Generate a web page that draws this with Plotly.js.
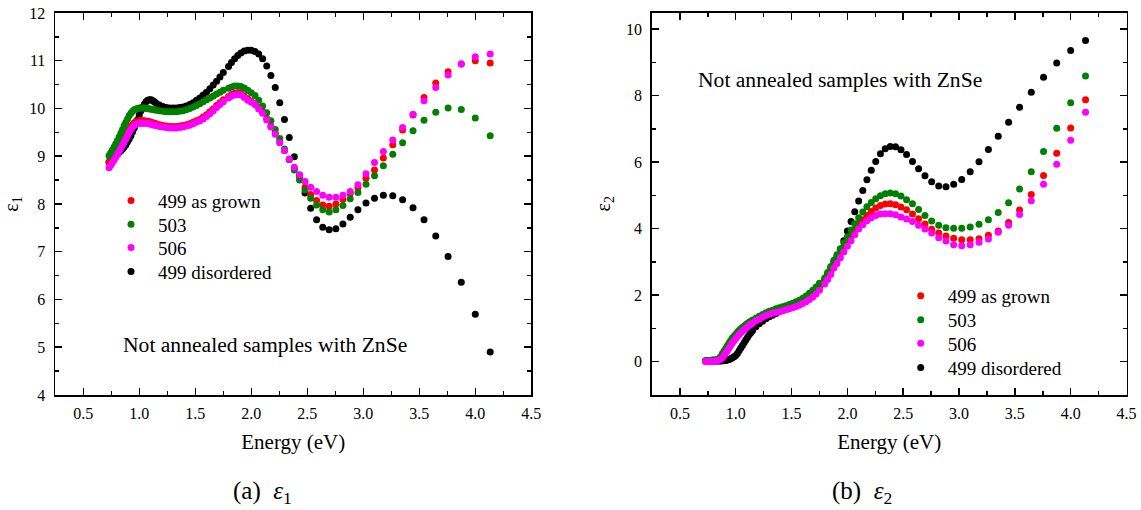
<!DOCTYPE html>
<html>
<head>
<meta charset="utf-8">
<script src="https://cdn.plot.ly/plotly-3.0.1.min.js"></script>
<style>html,body{margin:0;padding:0;background:#fff;}#chart{width:1141px;height:510px;}</style>
</head>
<body>
<div id="chart"></div>
<script>
// Photon energy (eV)
const energy = [0.730,0.745,0.760,0.775,0.790,0.805,0.820,0.835,0.850,0.865,0.880,0.895,0.910,0.925,0.940,0.955,0.970,0.985,1.000,1.015,1.030,1.045,1.060,1.075,1.090,1.105,1.120,1.135,1.150,
  1.18,1.21,1.24,1.27,1.30,1.33,1.36,1.39,1.42,1.45,1.48,1.51,1.54,1.57,1.60,1.63,1.66,1.69,1.72,1.75,
  1.797,1.823,1.851,1.879,1.907,1.937,1.968,2.000,2.033,2.066,2.101,2.138,2.175,2.214,2.254,2.296,2.339,2.384,2.431,2.480,2.530,2.583,2.638,2.695,2.755,2.818,2.883,2.952,3.024,3.100,3.179,3.263,3.351,3.444,3.542,3.647,3.757,3.875,4.000,4.133];

const seriesNames = ['499 as grown','503','506','499 disordered'];
const seriesColors = ['#ff0000','#008000','#ff00ff','#000000'];

// epsilon_1
const eps1_499 = [8.87,8.92,8.97,9.02,9.08,9.13,9.19,9.25,9.31,9.37,9.43,9.50,9.56,9.62,9.66,9.70,9.72,9.73,9.74,9.74,9.74,9.74,9.73,9.73,9.72,9.71,9.70,9.69,9.68,
  9.66,9.64,9.63,9.62,9.62,9.62,9.63,9.64,9.66,9.68,9.71,9.74,9.77,9.82,9.87,9.93,9.99,10.06,10.12,10.18,
  10.25,10.29,10.32,10.33,10.31,10.26,10.20,10.15,10.09,10.02,9.93,9.79,9.63,9.48,9.30,9.12,8.93,8.75,8.56,8.35,8.20,8.07,7.98,7.95,8.00,8.10,8.22,8.34,8.54,8.71,8.96,9.24,9.55,9.86,10.23,10.53,10.77,10.93,11.00,10.95];
const eps1_503 = [9.01,9.07,9.13,9.19,9.26,9.33,9.40,9.48,9.56,9.64,9.71,9.78,9.85,9.90,9.94,9.97,9.99,10.00,10.01,10.01,10.01,10.01,10.00,10.00,9.99,9.99,9.98,9.97,9.96,
  9.95,9.94,9.93,9.93,9.93,9.93,9.94,9.95,9.97,10.00,10.03,10.06,10.10,10.14,10.18,10.22,10.26,10.30,10.34,10.38,
  10.42,10.45,10.47,10.47,10.46,10.43,10.38,10.33,10.27,10.17,10.05,9.91,9.74,9.56,9.37,9.15,8.93,8.71,8.50,8.29,8.12,7.98,7.88,7.83,7.88,7.97,8.11,8.24,8.41,8.59,8.80,9.04,9.28,9.53,9.75,9.92,10.01,9.98,9.80,9.43];
const eps1_506 = [8.76,8.81,8.87,8.92,8.98,9.04,9.10,9.16,9.23,9.29,9.36,9.43,9.50,9.56,9.61,9.65,9.67,9.68,9.69,9.69,9.69,9.69,9.69,9.69,9.68,9.67,9.66,9.65,9.64,
  9.62,9.61,9.60,9.59,9.59,9.59,9.60,9.61,9.63,9.65,9.68,9.71,9.74,9.78,9.83,9.89,9.95,10.02,10.08,10.14,
  10.22,10.26,10.28,10.29,10.28,10.23,10.17,10.13,10.08,9.99,9.90,9.76,9.61,9.46,9.28,9.12,8.94,8.77,8.61,8.47,8.35,8.26,8.18,8.14,8.14,8.18,8.26,8.40,8.63,8.87,9.10,9.34,9.60,9.88,10.16,10.44,10.70,10.93,11.08,11.14];
const eps1_499d = [8.88,8.91,8.94,8.97,9.01,9.04,9.08,9.11,9.15,9.19,9.24,9.30,9.36,9.43,9.51,9.59,9.68,9.77,9.86,9.95,10.03,10.09,10.14,10.17,10.18,10.18,10.16,10.14,10.11,
  10.07,10.04,10.02,10.01,10.01,10.01,10.02,10.03,10.05,10.08,10.12,10.17,10.22,10.28,10.34,10.41,10.49,10.57,10.66,10.75,
  10.88,10.96,11.04,11.11,11.16,11.20,11.22,11.22,11.19,11.14,11.04,10.89,10.69,10.44,10.12,9.77,9.39,8.99,8.60,8.23,7.91,7.67,7.51,7.46,7.48,7.58,7.72,7.88,8.02,8.12,8.18,8.17,8.09,7.92,7.67,7.33,6.90,6.36,5.69,4.90];

// epsilon_2
const eps2_499 = [0.03,0.03,0.03,0.03,0.03,0.03,0.04,0.05,0.07,0.12,0.18,0.25,0.33,0.41,0.49,0.57,0.64,0.71,0.77,0.83,0.88,0.93,0.98,1.02,1.06,1.10,1.14,1.18,1.21,
  1.27,1.33,1.38,1.43,1.47,1.50,1.53,1.56,1.59,1.62,1.65,1.69,1.73,1.77,1.83,1.89,1.97,2.05,2.14,2.25,
  2.40,2.55,2.72,2.91,3.07,3.26,3.44,3.61,3.79,3.96,4.13,4.27,4.40,4.52,4.62,4.70,4.74,4.75,4.72,4.65,4.57,4.44,4.30,4.14,3.98,3.87,3.78,3.71,3.67,3.67,3.70,3.80,3.93,4.19,4.56,5.03,5.60,6.27,7.03,7.88];
const eps2_503 = [0.03,0.03,0.04,0.04,0.05,0.05,0.06,0.07,0.10,0.16,0.24,0.32,0.40,0.48,0.56,0.64,0.71,0.77,0.83,0.89,0.94,0.99,1.03,1.07,1.11,1.15,1.19,1.22,1.25,
  1.31,1.37,1.42,1.47,1.52,1.55,1.59,1.62,1.65,1.68,1.72,1.76,1.80,1.85,1.91,1.98,2.06,2.15,2.25,2.36,
  2.52,2.68,2.86,3.05,3.22,3.40,3.58,3.76,3.96,4.15,4.33,4.50,4.66,4.79,4.90,4.99,5.05,5.07,5.05,4.98,4.87,4.75,4.58,4.40,4.23,4.10,4.03,4.01,4.01,4.05,4.13,4.27,4.49,4.78,5.19,5.71,6.32,7.02,7.79,8.59];
const eps2_506 = [0.01,0.01,0.01,0.01,0.01,0.01,0.02,0.03,0.05,0.08,0.12,0.19,0.26,0.33,0.41,0.49,0.56,0.63,0.70,0.76,0.81,0.87,0.92,0.97,1.01,1.05,1.09,1.13,1.16,
  1.23,1.28,1.34,1.39,1.43,1.46,1.48,1.50,1.53,1.56,1.59,1.62,1.66,1.70,1.75,1.80,1.87,1.95,2.04,2.15,
  2.34,2.47,2.62,2.82,2.95,3.13,3.30,3.47,3.64,3.82,3.99,4.12,4.24,4.33,4.40,4.44,4.45,4.45,4.42,4.35,4.29,4.22,4.10,3.99,3.87,3.73,3.63,3.52,3.49,3.52,3.59,3.69,3.89,4.10,4.43,4.84,5.34,5.94,6.66,7.50];
const eps2_499d = [0.02,0.02,0.02,0.02,0.02,0.02,0.02,0.02,0.02,0.02,0.03,0.03,0.04,0.05,0.07,0.09,0.12,0.15,0.19,0.25,0.33,0.41,0.49,0.57,0.65,0.73,0.81,0.87,0.93,
  1.05,1.14,1.22,1.29,1.35,1.40,1.45,1.50,1.54,1.58,1.62,1.66,1.71,1.76,1.83,1.90,1.99,2.09,2.19,2.31,
  2.47,2.63,2.82,3.00,3.16,3.38,3.64,3.93,4.22,4.51,4.83,5.15,5.47,5.76,6.02,6.25,6.40,6.47,6.46,6.37,6.23,6.02,5.80,5.59,5.41,5.28,5.26,5.34,5.48,5.71,6.01,6.38,6.78,7.20,7.65,8.10,8.55,8.98,9.36,9.66];

const xTickVals = [0.5,1.0,1.5,2.0,2.5,3.0,3.5,4.0,4.5];
const xTickText = ['0.5','1.0','1.5','2.0','2.5','3.0','3.5','4.0','4.5'];

const FONT = 'Liberation Serif';
const W = 1141, H = 510;

const left = [eps1_499, eps1_503, eps1_506, eps1_499d];
const right = [eps2_499, eps2_503, eps2_506, eps2_499d];
const drawOrder = [3, 0, 1, 2]; // black drawn first

const traces = [];
drawOrder.forEach(i => {
  traces.push({x: energy, y: left[i], xaxis: 'x', yaxis: 'y', type: 'scatter', mode: 'markers',
    name: seriesNames[i], marker: {color: seriesColors[i], size: 7}, legend: i === 0 ? 'legend' : 'legend' + (i + 1)});
});
drawOrder.forEach(i => {
  traces.push({x: energy, y: right[i], xaxis: 'x2', yaxis: 'y2', type: 'scatter', mode: 'markers',
    name: seriesNames[i], marker: {color: seriesColors[i], size: 7}, legend: 'legend' + (i + 5)});
});

function axisBase() {
  return {
    showline: true, linecolor: '#000', linewidth: 1.8, mirror: 'allticks',
    ticks: 'inside', ticklen: 7, tickwidth: 1.5, tickcolor: '#000',
    showgrid: false, zeroline: false,
    tickfont: {family: FONT, size: 16, color: '#000'},
  };
}
function legendAt(px, py) {
  return {x: px / W, y: 1 - py / H, xanchor: 'left', yanchor: 'middle', bgcolor: 'rgba(0,0,0,0)',
    borderwidth: 0, itemwidth: 44, font: {family: FONT, size: 19, color: '#000'}};
}

const layout = {
  width: W, height: H,
  margin: {l: 0, r: 0, t: 0, b: 0},
  paper_bgcolor: '#fff', plot_bgcolor: '#fff',
  font: {family: FONT, color: '#000'},
  showlegend: true,
  xaxis: Object.assign(axisBase(), {
    domain: [55.3 / W, 531.3 / W], range: [0.25, 4.5], anchor: 'y',
    tickvals: xTickVals, ticktext: xTickText, ticklabelstandoff: 3,
    minor: {dtick: 0.25, tick0: 0.25, ticks: 'inside', ticklen: 4, tickwidth: 1.5, tickcolor: '#000'},
    title: {text: 'Energy (eV)', font: {family: FONT, size: 21, color: '#000'}, standoff: 13}
  }),
  yaxis: Object.assign(axisBase(), {
    domain: [1 - 395 / H, 1 - 12.9 / H], range: [4, 12], anchor: 'x', dtick: 1, tick0: 4, ticklabelstandoff: 5,
    minor: {dtick: 0.5, tick0: 4, ticks: 'inside', ticklen: 4, tickwidth: 1.5, tickcolor: '#000'},
    title: {text: 'ε<sub>1</sub>', font: {family: FONT, size: 20, color: '#000'}, standoff: 10}
  }),
  xaxis2: Object.assign(axisBase(), {
    domain: [652 / W, 1126.5 / W], range: [0.25, 4.5], anchor: 'y2',
    tickvals: xTickVals, ticktext: xTickText, ticklabelstandoff: 3,
    minor: {dtick: 0.25, tick0: 0.25, ticks: 'inside', ticklen: 4, tickwidth: 1.5, tickcolor: '#000'},
    title: {text: 'Energy (eV)', font: {family: FONT, size: 21, color: '#000'}, standoff: 13}
  }),
  yaxis2: Object.assign(axisBase(), {
    domain: [1 - 395 / H, 1 - 12.5 / H], range: [-1, 10.5], anchor: 'x2', dtick: 2, tick0: 0, ticklabelstandoff: 5,
    minor: {dtick: 1, tick0: 0, ticks: 'inside', ticklen: 4, tickwidth: 1.5, tickcolor: '#000'},
    title: {text: 'ε<sub>2</sub>', font: {family: FONT, size: 20, color: '#000'}, standoff: 10}
  }),
  legend: legendAt(104, 200.7),
  legend2: legendAt(104, 224.3),
  legend3: legendAt(104, 247.7),
  legend4: legendAt(104, 271.7),
  legend5: legendAt(893.7, 296),
  legend6: legendAt(893.7, 320),
  legend7: legendAt(893.7, 343.3),
  legend8: legendAt(893.7, 367.7),
  annotations: [
    {text: 'Not annealed samples with ZnSe', xref: 'paper', yref: 'paper', x: 265 / W, y: 1 - 345 / H,
      xanchor: 'center', yanchor: 'middle', showarrow: false, font: {family: FONT, size: 21.6, color: '#000'}},
    {text: 'Not annealed samples with ZnSe', xref: 'paper', yref: 'paper', x: 840 / W, y: 1 - 80 / H,
      xanchor: 'center', yanchor: 'middle', showarrow: false, font: {family: FONT, size: 21.6, color: '#000'}},
    {text: '(a)  <i>ε</i><sub>1</sub>', xref: 'paper', yref: 'paper', x: 262 / W, y: 1 - 492 / H,
      xanchor: 'center', yanchor: 'middle', showarrow: false, font: {family: FONT, size: 25, color: '#000'}},
    {text: '(b)  <i>ε</i><sub>2</sub>', xref: 'paper', yref: 'paper', x: 862 / W, y: 1 - 492 / H,
      xanchor: 'center', yanchor: 'middle', showarrow: false, font: {family: FONT, size: 25, color: '#000'}}
  ]
};

Plotly.newPlot('chart', traces, layout, {staticPlot: true, displayModeBar: false});
</script>
</body>
</html>
